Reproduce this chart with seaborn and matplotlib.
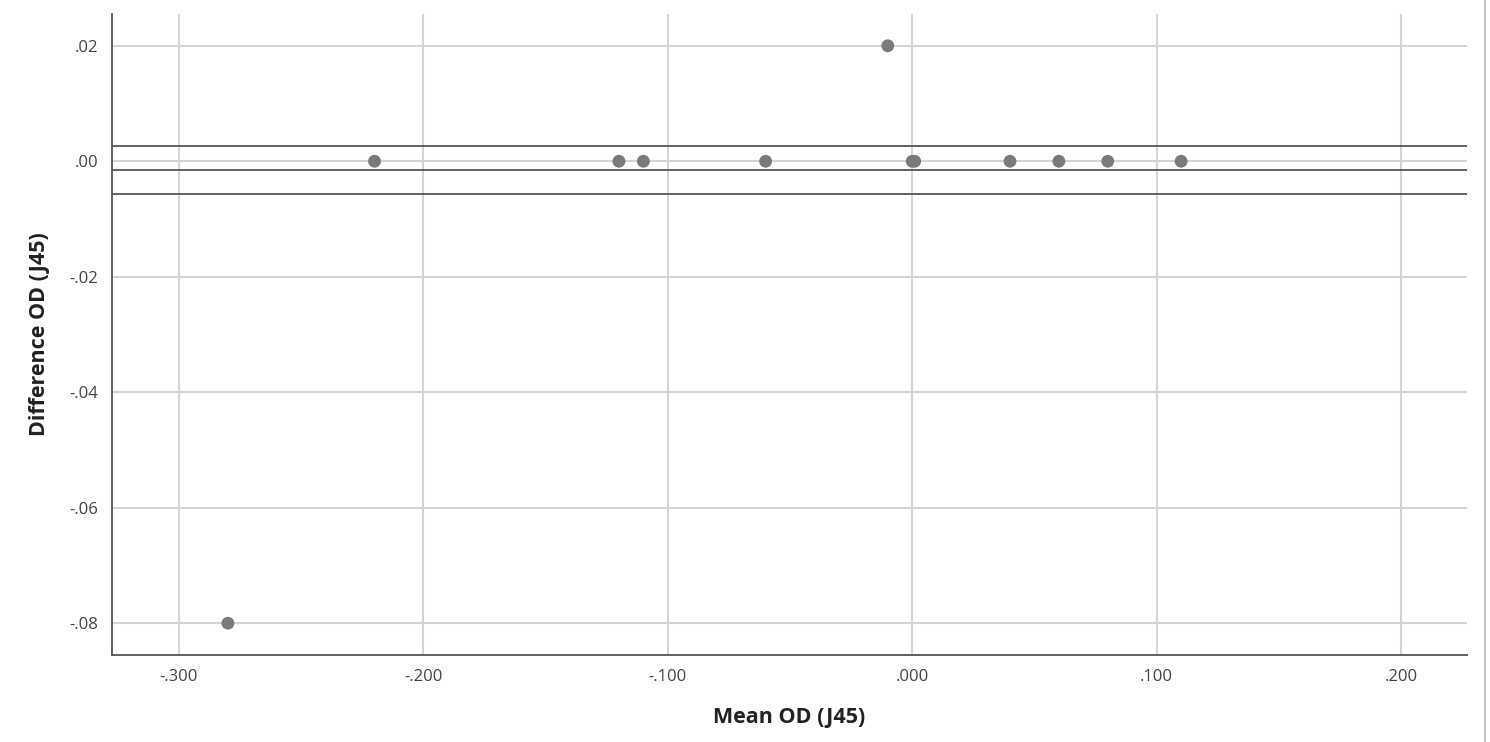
import numpy as np
import pandas as pd
import matplotlib
matplotlib.use('Agg')
import matplotlib.pyplot as plt
from matplotlib.ticker import FuncFormatter
import seaborn as sns

# Bland-Altman style data
mean_od = [-0.280, -0.220, -0.120, -0.110, -0.060, -0.010, 0.000, 0.001, 0.040, 0.060, 0.080, 0.110]
diff_od = [-0.080, 0.000, 0.000, 0.000, 0.000, 0.020, 0.000, 0.000, 0.000, 0.000, 0.000, 0.000]
ref_lines = [0.0026, -0.0015, -0.0056]  # upper LoA, mean diff, lower LoA
x_ticks = [-0.3, -0.2, -0.1, 0.0, 0.1, 0.2]
y_ticks = [0.02, 0.00, -0.02, -0.04, -0.06, -0.08]

df = pd.DataFrame({'Mean OD (J45)': mean_od, 'Difference OD (J45)': diff_od})

sns.set_style('white')
plt.rcParams['font.family'] = ['Open Sans', 'DejaVu Sans']

fig = plt.figure(figsize=(14.9, 7.42), dpi=100)
ax = fig.add_axes([0.0752, 0.1173, 0.9094, 0.8638])

for t in x_ticks:
    ax.axvline(t, color='#d4d4d4', lw=1.5, zorder=0)
for t in y_ticks:
    ax.axhline(t, color='#d4d4d4', lw=1.5, zorder=0)
for v in ref_lines:
    ax.axhline(v, color='#555555', lw=1.3, zorder=1)

sns.scatterplot(data=df, x='Mean OD (J45)', y='Difference OD (J45)', ax=ax,
                color='#7a7a7a', s=85, edgecolor='none', zorder=3)

ax.set_xlim(-0.3274, 0.227)
ax.set_ylim(-0.0855, 0.0255)
ax.set_xticks(x_ticks)
ax.set_yticks(y_ticks)


def strip_zero(fmt):
    # SPSS style labels: ".02", "-.300"
    def f(v, pos):
        s = format(v, fmt)
        if float(s) == 0:
            s = s.lstrip('-')
        return s.replace('0.', '.', 1)
    return f


ax.xaxis.set_major_formatter(FuncFormatter(strip_zero('.3f')))
ax.yaxis.set_major_formatter(FuncFormatter(strip_zero('.2f')))
ax.tick_params(axis='both', length=0, labelsize=12, labelcolor='#444444', pad=10)

for side in ['top', 'right']:
    ax.spines[side].set_visible(False)
for side in ['left', 'bottom']:
    ax.spines[side].set_color('#555555')
    ax.spines[side].set_linewidth(1.3)

ax.set_xlabel('Mean OD (J45)', fontsize=15.5, fontweight='bold', color='#222222', labelpad=16)
ax.set_ylabel('Difference OD (J45)', fontsize=15.5, fontweight='bold', color='#222222', labelpad=14)

# thin page border at right edge
fig.add_artist(plt.Line2D([0.9966, 0.9966], [0, 1], color='#bbbbbb', lw=1.2))

fig.savefig('out.png', dpi=100)
